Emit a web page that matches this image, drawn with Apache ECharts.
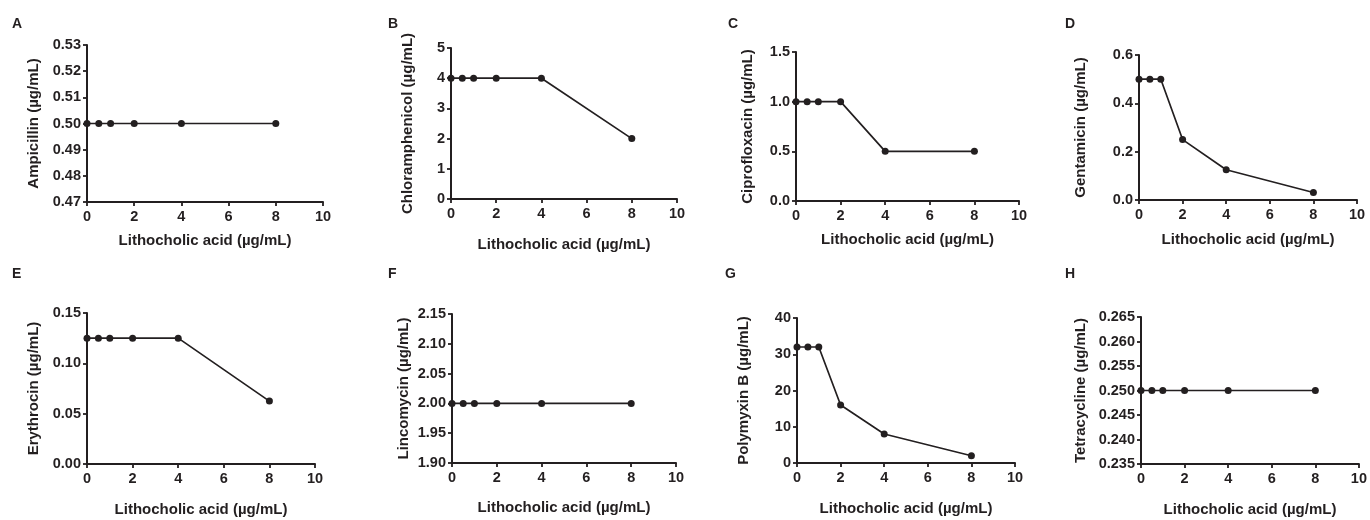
<!DOCTYPE html>
<html><head><meta charset="utf-8">
<script src="https://cdn.jsdelivr.net/npm/echarts@6/dist/echarts.min.js"></script>
<style>html,body{margin:0;padding:0;background:#fff}#c{width:1370px;height:520px}</style>
</head><body><div id="c"></div>
<script>
const xValues = [0, 0.5, 1, 2, 4, 8];
const panelLetters = ['A','B','C','D','E','F','G','H'];
const yNames = ['Ampicillin (µg/mL)','Chloramphenicol (µg/mL)','Ciprofloxacin (µg/mL)','Gentamicin (µg/mL)','Erythrocin (µg/mL)','Lincomycin (µg/mL)','Polymyxin B (µg/mL)','Tetracycline (µg/mL)'];
const xName = 'Lithocholic acid (µg/mL)';
const ampicillin = [0.5, 0.5, 0.5, 0.5, 0.5, 0.5];
const chloramphenicol = [4, 4, 4, 4, 4, 2];
const ciprofloxacin = [1, 1, 1, 1, 0.5, 0.5];
const gentamicin = [0.5, 0.5, 0.5, 0.25, 0.125, 0.03125];
const erythrocin = [0.125, 0.125, 0.125, 0.125, 0.125, 0.0625];
const lincomycin = [2, 2, 2, 2, 2, 2];
const polymyxinB = [32, 32, 32, 16, 8, 2];
const tetracycline = [0.25, 0.25, 0.25, 0.25, 0.25, 0.25];
const seriesValues = [ampicillin, chloramphenicol, ciprofloxacin, gentamicin, erythrocin, lincomycin, polymyxinB, tetracycline];
const yMin = [0.47, 0, 0, 0, 0, 1.90, 0, 0.235];
const yMax = [0.53, 5, 1.5, 0.6, 0.15, 2.15, 40, 0.265];
const yInterval = [0.01, 1, 0.5, 0.2, 0.05, 0.05, 10, 0.005];
const yDecimals = [2, 0, 1, 1, 2, 2, 0, 3];
const xMin = 0, xMax = 10, xInterval = 2;

const grids = [
  {left:87, top:45, width:236, height:157},
  {left:451, top:48, width:226, height:151},
  {left:796, top:52, width:223, height:149},
  {left:1139, top:55, width:218, height:145},
  {left:87, top:313, width:228, height:151},
  {left:452, top:314, width:224, height:149},
  {left:797, top:318, width:218, height:145},
  {left:1141, top:317, width:221, height:147}
];
const letterPos = [[12,17],[388,17],[728,17],[1065,17],[12,267],[388,267],[725,267],[1065,267]];
const xNameGap = [31,38,31,32,38,37,38,38];
const yNameGap = [46,36,41,51,46,41,46,53];
const ink = '#231f20';
const font = 'Liberation Sans, Arial, sans-serif';

const option = {
  animation:false,
  backgroundColor:'#fff',
  grid: grids.map(g=>Object.assign({containLabel:false}, g)),
  title: panelLetters.map((l,i)=>({text:l, left:letterPos[i][0], top:letterPos[i][1], padding:0,
    textStyle:{fontFamily:font, fontWeight:'bold', fontSize:14, color:ink}})),
  xAxis: grids.map((g,i)=>({
    type:'value', gridIndex:i, min:xMin, max:xMax, interval:xInterval,
    name:xName, nameLocation:'middle', nameGap:xNameGap[i],
    nameTextStyle:{fontFamily:font, fontWeight:'bold', fontSize:15, color:ink},
    axisLine:{show:true, onZero:false, lineStyle:{color:ink, width:2}},
    axisTick:{show:true, length:4, lineStyle:{color:ink, width:1.8}},
    axisLabel:{fontFamily:font, fontWeight:'bold', fontSize:14.5, color:ink, margin:7},
    splitLine:{show:false}
  })),
  yAxis: grids.map((g,i)=>({
    type:'value', gridIndex:i, min:yMin[i], max:yMax[i], interval:yInterval[i],
    name:yNames[i], nameLocation:'middle', nameGap:yNameGap[i], nameRotate:90,
    nameTextStyle:{fontFamily:font, fontWeight:'bold', fontSize:15, color:ink},
    axisLine:{show:true, onZero:false, lineStyle:{color:ink, width:2}},
    axisTick:{show:true, length:4, lineStyle:{color:ink, width:1.8}},
    axisLabel:{fontFamily:font, fontWeight:'bold', fontSize:14.5, color:ink, margin:6,
      formatter:(v)=>Number(v).toFixed(yDecimals[i])},
    splitLine:{show:false}
  })),
  series: seriesValues.map((vals,i)=>({
    type:'line', xAxisIndex:i, yAxisIndex:i, clip:false,
    data: xValues.map((x,j)=>[x, vals[j]]),
    symbol:'circle', symbolSize:7, showSymbol:true,
    lineStyle:{color:ink, width:1.7},
    itemStyle:{color:ink}
  }))
};
const chart = echarts.init(document.getElementById('c'), null, {renderer:'canvas'});
chart.setOption(option);
</script></body></html>
